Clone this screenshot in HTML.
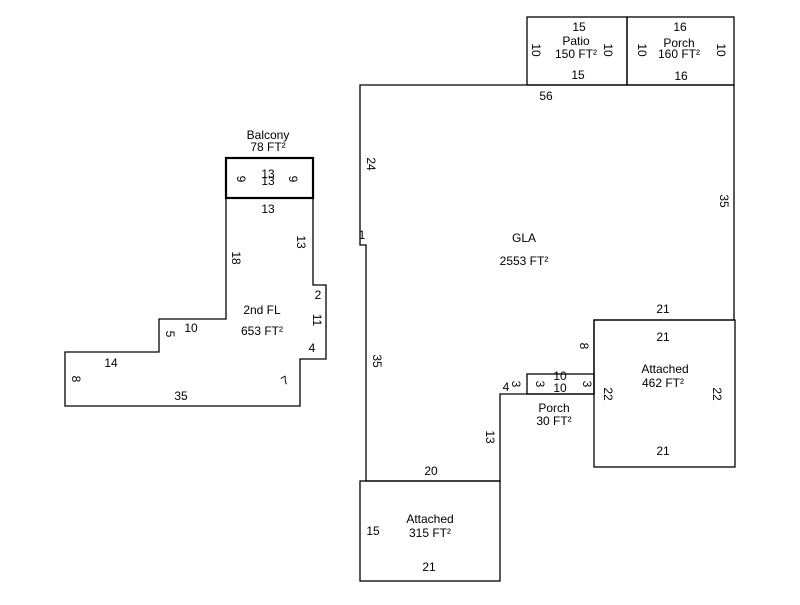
<!DOCTYPE html>
<html><head><style>body{margin:0;background:#fff}</style></head><body>
<svg width="800" height="600" xmlns="http://www.w3.org/2000/svg" font-family="Liberation Sans, sans-serif" font-size="12" fill="#000">
<g fill="none" stroke="#000" stroke-width="1.3">
<path d="M360,85 L734,85 L734,320 L594,320 L594,394 L527,394 L500,394 L500,481 L366,481 L366,245 L360,245 Z"/>
<rect x="527" y="374" width="67" height="20"/>
<rect x="527" y="17" width="100" height="68"/>
<rect x="627" y="17" width="107" height="68"/>
<rect x="594" y="320" width="141" height="147"/>
<rect x="360" y="481" width="140" height="100"/>
<path d="M226,198 L226,319 L159,319 L159,352 L65,352 L65,406 L300,406 L300,359 L326,359 L326,285 L313,285 L313,198"/>
<rect x="226" y="158" width="87" height="40" stroke-width="2.2"/>
</g>
<g text-anchor="middle">
<text x="579" y="31">15</text><text x="576" y="45">Patio</text><text x="576" y="58">150 FT²</text><text x="578" y="79">15</text>
<text x="680" y="31">16</text><text x="679" y="47">Porch</text><text x="679" y="58">160 FT²</text><text x="681" y="80">16</text>
<text x="546" y="100">56</text>
<text x="524" y="242">GLA</text><text x="524" y="265">2553 FT²</text>
<text x="663" y="313">21</text><text x="663" y="341">21</text>
<text x="665" y="373">Attached</text><text x="663" y="387">462 FT²</text>
<text x="663" y="455">21</text>
<text x="554" y="412">Porch</text><text x="554" y="425">30 FT²</text>
<text x="560" y="380">10</text><text x="560" y="392">10</text>
<text x="506" y="391">4</text>
<text x="431" y="475">20</text>
<text x="430" y="523">Attached</text><text x="430" y="537">315 FT²</text>
<text x="373" y="535">15</text><text x="429" y="571">21</text>
<text x="268" y="139">Balcony</text><text x="268" y="151">78 FT²</text>
<text x="268" y="178">13</text><text x="268" y="185">13</text>
<text x="268" y="213">13</text>
<text x="262" y="314">2nd FL</text><text x="262" y="335">653 FT²</text>
<text x="318" y="299">2</text><text x="312" y="352">4</text>
<text x="191" y="332">10</text><text x="111" y="367">14</text><text x="181" y="400">35</text>
<text x="362" y="239">1</text>
</g>
<g text-anchor="middle">
<text transform="translate(367,164) rotate(90)">24</text>
<text transform="translate(720,201) rotate(90)">35</text>
<text transform="translate(373,361) rotate(90)">35</text>
<text transform="translate(486,437) rotate(90)">13</text>
<text transform="translate(580,346) rotate(90)">8</text>
<text transform="translate(512,384) rotate(90)">3</text>
<text transform="translate(536,384) rotate(90)">3</text>
<text transform="translate(583,384) rotate(90)">3</text>
<text transform="translate(604,394) rotate(90)">22</text>
<text transform="translate(713,394) rotate(90)">22</text>
<text transform="translate(532,50) rotate(90)">10</text>
<text transform="translate(604,50) rotate(90)">10</text>
<text transform="translate(638,50) rotate(90)">10</text>
<text transform="translate(717,50) rotate(90)">10</text>
<text transform="translate(237,179) rotate(90)">9</text>
<text transform="translate(289,179) rotate(90)">9</text>
<text transform="translate(297,242) rotate(90)">13</text>
<text transform="translate(232,258) rotate(90)">18</text>
<text transform="translate(313,320) rotate(90)">11</text>
<text transform="translate(166,334) rotate(90)">5</text>
<text transform="translate(72,379) rotate(90)">8</text>
<text transform="translate(287,384) rotate(-30)">7</text>
</g>
</svg>
</body></html>
